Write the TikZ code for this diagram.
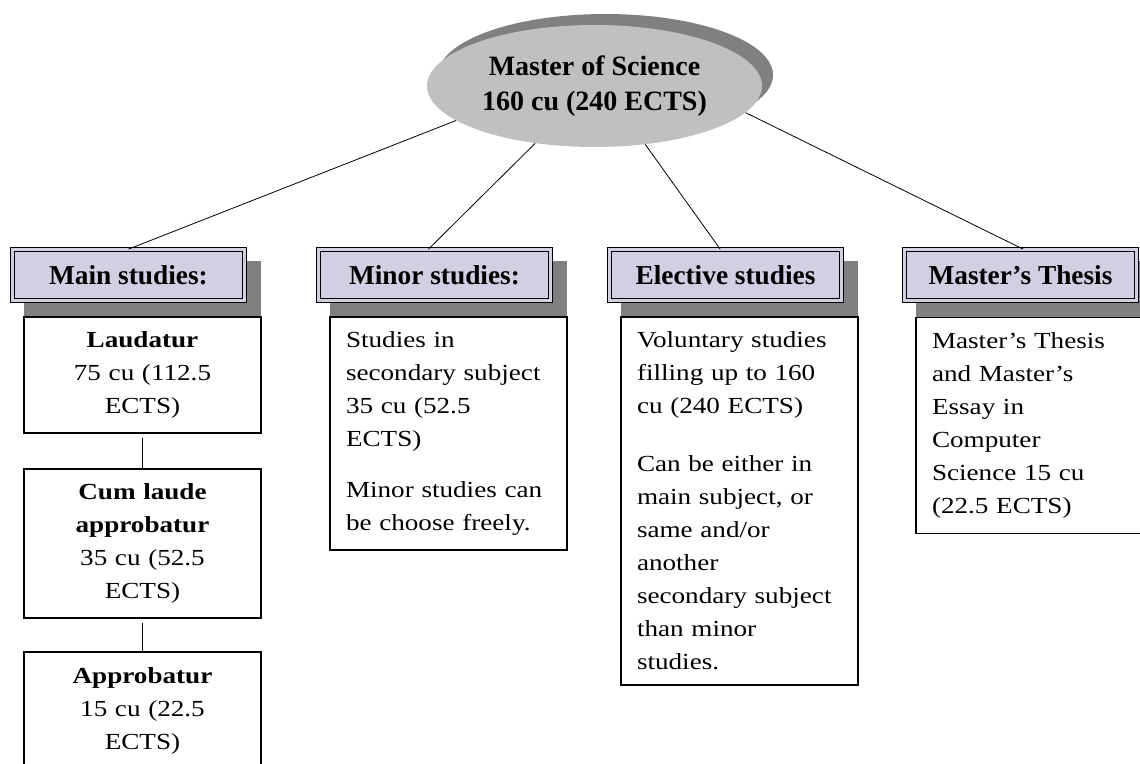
\documentclass[tikz,border=0pt]{standalone}
\usepackage{fontspec}
\setmainfont{Liberation Serif}
\newfontfamily\bodyfont{Liberation Serif}[FakeStretch=1.18,Ligatures=TeX]
\usepackage{xcolor}
\usetikzlibrary{shapes.geometric}

\definecolor{ellgray}{RGB}{192,192,192}
\definecolor{shadowgray}{RGB}{128,128,128}
\definecolor{hdfill}{RGB}{208,208,226}

\begin{document}
\begin{tikzpicture}[x=0.75pt,y=0.75pt,yscale=-1,xscale=1,
	hdbox/.style={draw, line width=0.8pt, double=hdfill, double distance=2.4pt, fill=hdfill, minimum width=173.75pt, minimum height=38pt, inner sep=0pt, font=\bfseries\fontsize{20.5}{24}\selectfont},
	cbox/.style={draw, line width=0.9pt, fill=white, inner xsep=12pt, inner ysep=0pt, text width=153.75pt, align=left, font=\bodyfont\fontsize{17.25}{24.75}\selectfont},
	gbox/.style={cbox, align=center},
	link/.style={line width=0.6pt}]
	%set diagram size 1140 x 764
	\useasboundingbox (0,0) rectangle (1140,764);

	%Shape: Ellipse shadow
	\fill [shadowgray] (605.5,75) ellipse [x radius=167.5, y radius=61];
	%Shape: Ellipse
	\node [ellipse, fill=ellgray, minimum width=251.25pt, minimum height=91.5pt, inner sep=0pt, align=center, font=\bfseries\fontsize{21}{26.25}\selectfont] (msc) at (594.5,86) {Master of Science\\160 cu (240 ECTS)};

	%Shape: Rectangle shadows of the headers
	\foreach \x in {10,316,607,902}
		\fill [shadowgray] (\x+14,261) rectangle (\x+251,317);

	% Header Nodes
	\node [hdbox] (mainhd) at (128.5,275) {Main studies:};
	\node [hdbox] (minorhd) at (434.5,275) {Minor studies:};
	\node [hdbox] (electhd) at (725.5,275) {Elective studies};
	\node [hdbox] (thesishd) at (1020.5,275) {Master's Thesis};

	% Text Node
	\node [gbox, minimum height=87pt] (laud) at (142.5,375) {\textbf{Laudatur}\\75 cu (112.5\\ECTS)};
	% Text Node
	\node [gbox, minimum height=111.75pt] (cumlaude) at (142.5,543.5) {\textbf{Cum laude}\\\textbf{approbatur}\\35 cu (52.5\\ECTS)};
	% Text Node
	\node [gbox, minimum height=88.5pt] (approb) at (142.5,711) {\textbf{Approbatur}\\15 cu (22.5\\ECTS)};
	% Text Node
	\node [cbox, minimum height=174.75pt] (minorbox) at (448.5,433.5) {Studies in\\secondary subject\\35 cu (52.5\\ECTS)\\[14pt]Minor studies can\\be choose freely.};
	% Text Node
	\node [cbox, minimum height=276pt] (electbox) at (739.5,501) {Voluntary studies\\filling up to 160\\cu (240 ECTS)\\[19pt]Can be either in\\main subject, or\\same and/or\\another\\secondary subject\\than minor\\studies.};
	% Text Node
	\node [cbox, minimum height=162pt] (thesisbox) at (1034.5,425.5) {Master's Thesis\\and Master's\\Essay in\\Computer\\Science 15 cu\\(22.5 ECTS)};

	%Straight Lines
	\draw [link] (msc.194) -- (mainhd.north);
	\draw [link] (msc.224) -- ([xshift=-4.5pt]minorhd.north);
	\draw [link] (msc.-49) -- ([xshift=-4pt]electhd.north);
	\draw [link] (msc.-10) -- ([xshift=2pt]thesishd.north);
	\draw [link, shorten <=3.5pt] (laud.south) -- (cumlaude.north);
	\draw [link, shorten <=3.5pt] (cumlaude.south) -- (approb.north);

\end{tikzpicture}
\end{document}
